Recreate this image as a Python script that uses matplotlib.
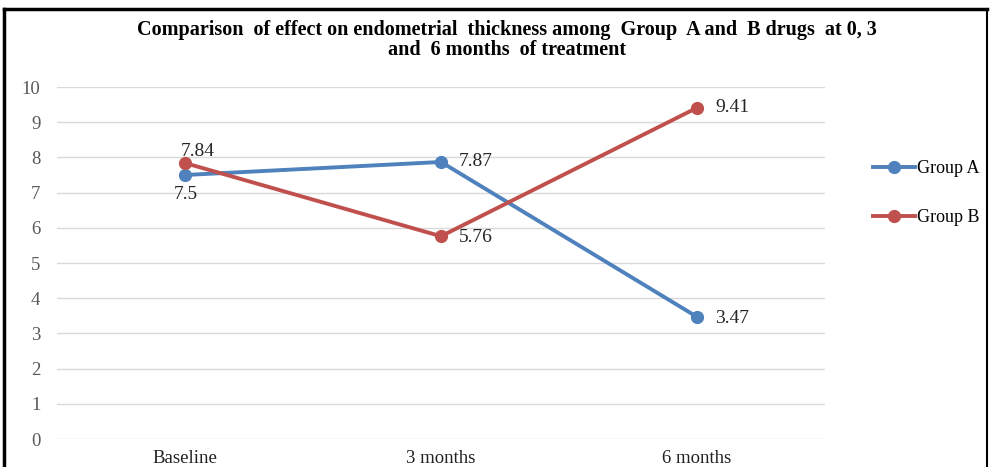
import matplotlib
matplotlib.use('Agg')
import matplotlib.pyplot as plt
from matplotlib.lines import Line2D

# DATA
categories = ['Baseline', '3 months', '6 months']
group_a = [7.5, 7.87, 3.47]
group_b = [7.84, 5.76, 9.41]
yticks = list(range(0, 11))

BLUE = '#4F81BD'
RED = '#C0504D'
plt.rcParams['font.family'] = ['Liberation Serif', 'DejaVu Serif']

fig = plt.figure(figsize=(9.9, 4.67), dpi=100)
ax = fig.add_axes([57/990, 28/467, 768/990, 352/467])

x = range(len(categories))
la, = ax.plot(x, group_a, '-o', color=BLUE, lw=2.8, ms=8.5, label='Group A', zorder=3)
lb, = ax.plot(x, group_b, '-o', color=RED, lw=2.8, ms=8.5, label='Group B', zorder=3)

# data labels (offsets in points)
lab_col = '#262626'
offs_a = [(-8, -14, 'left'), (13, 0, 'left'), (13, -1, 'left')]
offs_b = [(-3, 8, 'left'), (13, -1, 'left'), (13, 0, 'left')]
for offs, vals in ((offs_a, group_a), (offs_b, group_b)):
    for i, v in enumerate(vals):
        dx, dy, ha = offs[i]
        ax.annotate(f'{v:g}', (i, v), xytext=(dx, dy), textcoords='offset points',
                    ha=ha, va='center', fontsize=14, color=lab_col)

ax.set_xlim(-0.5, 2.5)
ax.set_ylim(0, 10)
ax.set_yticks(yticks)
ax.set_xticks(list(x))
ax.set_xticklabels(categories, fontsize=13.5, color='#222222')
ax.tick_params(axis='y', labelsize=13.5, labelcolor='#595959', length=0, pad=12)
ax.tick_params(axis='x', length=0, pad=8)
ax.grid(axis='y', color='#d9d9d9', lw=1)
ax.set_axisbelow(True)
for s in ax.spines.values():
    s.set_visible(False)

fig.legend(handles=[la, lb], loc='upper left', bbox_to_anchor=(866/990, 1 - 153/467),
           frameon=False, fontsize=13, handlelength=2.3, handletextpad=0.1,
           labelspacing=1.75, borderaxespad=0)

fig.text(507/990, 1 - 30/467, 'Comparison  of effect on endometrial  thickness among  Group  A and  B drugs  at 0, 3',
         ha='center', va='center', fontsize=14.5, fontweight='bold')
fig.text(507/990, 1 - 50/467, 'and  6 months  of treatment',
         ha='center', va='center', fontsize=14.5, fontweight='bold')

# outer frame (bottom cut off)
fig.add_artist(Line2D([4/990, 4/990], [-0.1, 1 - 9/467], color='black', lw=2.5))
fig.add_artist(Line2D([4/990, 987/990], [1 - 9/467, 1 - 9/467], color='black', lw=2.5))
fig.add_artist(Line2D([987/990, 987/990], [-0.1, 1 - 9/467], color='black', lw=1.5))

fig.savefig('out.png', dpi=100)
